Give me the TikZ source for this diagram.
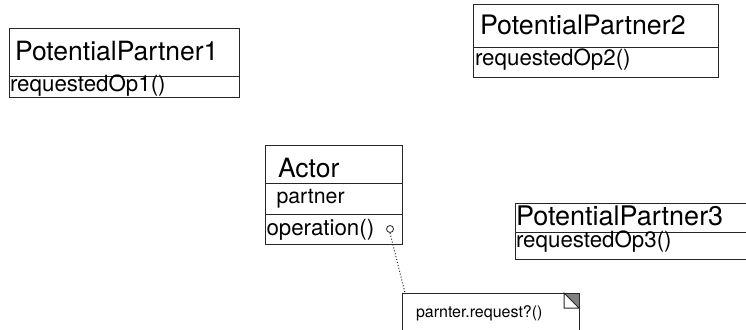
\documentclass[tikz,border=0pt]{standalone}
\usepackage{fontspec}
\setmainfont{TeX Gyre Heros}
\begin{document}
\begin{tikzpicture}[x=1pt, y=-1pt,
line/.style={draw=black!85, line width=1pt},
compart/.style={line, anchor=north west, outer sep=0pt, inner ysep=0pt, align=left},
big/.style={font=\fontsize{26.5}{30}\selectfont},
small/.style={font=\fontsize{22.3}{26}\selectfont}]

\def\fold{15}	% size of the dog ear

\useasboundingbox (0,0) rectangle (746,329);
\path[clip] (0,0) rectangle (746,329);

% PotentialPartner1
\node[compart, big, inner xsep=6pt, text width=218pt, text height=31pt, text depth=16pt] (pp1name) at (9,29) {PotentialPartner1};
\node[compart, small, inner xsep=1pt, text width=228pt, text height=15pt, text depth=6pt] (pp1op) at (pp1name.south west) {requestedOp1()};

% PotentialPartner2
\node[compart, big, font=\fontsize{26.8}{30}\selectfont, inner xsep=7pt, text width=231pt, text height=30pt, text depth=13pt] (pp2name) at (473,5) {PotentialPartner2};
\node[compart, small, inner xsep=2pt, text width=241pt, text height=17pt, text depth=12pt] (pp2op) at (pp2name.south west) {requestedOp2()};

% PotentialPartner3, runs off the right edge
\node[compart, big, font=\fontsize{27}{30}\selectfont, inner xsep=1pt, text width=253pt, text height=22pt, text depth=7pt] (pp3name) at (515,203) {PotentialPartner3};
\node[compart, small, inner xsep=1pt, text width=253pt, text height=15pt, text depth=12pt] (pp3op) at (pp3name.south west) {requestedOp3()};

% Actor
\node[compart, big, inner xsep=13pt, text width=111pt, text height=32pt, text depth=6pt] (actname) at (265,145) {Actor};
\node[compart, small, font=\fontsize{21.3}{26}\selectfont, inner xsep=11.5pt, text width=114pt, text height=20pt, text depth=11pt] (actattr) at (actname.south west) {partner};
\node[compart, small, inner xsep=1.5pt, text width=134pt, text height=21pt, text depth=9pt] (actop) at (actattr.south west) {operation()};
\node[line, circle, inner sep=0pt, minimum size=7pt, line width=0.8pt] (pin) at (390,229) {};

% note
\node[anchor=north west, outer sep=0pt, inner ysep=0pt, inner xsep=14pt, text width=149pt, align=left, text height=24pt, text depth=28pt, font=\fontsize{16}{19}\selectfont] (note) at (402,293) {parnter.request?()};
\fill[gray] ([xshift=-\fold pt]note.north east) -- (note.north east) -- ([yshift=-\fold pt]note.north east) -- cycle;
\draw[line] (note.south west) -- (note.north west) -- (note.north east) -- (note.south east);
\draw[line] ([xshift=-\fold pt]note.north east) -- ([xshift=-\fold pt, yshift=-\fold pt]note.north east) -- ([yshift=-\fold pt]note.north east) -- cycle;

\draw[line, dotted] (pin.south) -- ([xshift=3pt]note.north west);

\end{tikzpicture}
\end{document}
